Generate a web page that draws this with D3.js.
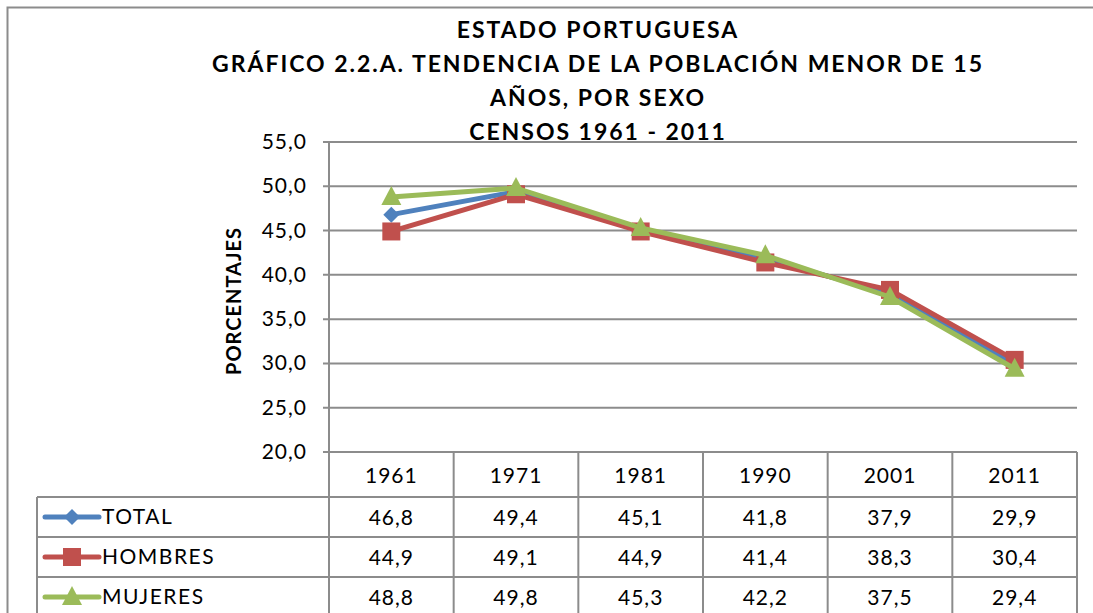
<!DOCTYPE html>
<html><head><meta charset="utf-8">
<script src="https://cdn.jsdelivr.net/npm/d3@7"></script>
<style>body{margin:0;background:#fff}svg{display:block}text{font-family:Lato,"Open Sans",sans-serif}</style>
</head><body>
<svg id="c" width="1093" height="613"></svg>
<script>
const titleLines = ["ESTADO PORTUGUESA","GRÁFICO 2.2.A. TENDENCIA DE LA POBLACIÓN MENOR DE 15","AÑOS, POR SEXO","CENSOS 1961  - 2011"];
const years = ["1961","1971","1981","1990","2001","2011"];
const total = [46.8,49.4,45.1,41.8,37.9,29.9];
const hombres = [44.9,49.1,44.9,41.4,38.3,30.4];
const mujeres = [48.8,49.8,45.3,42.2,37.5,29.4];
const yTicks = [20,25,30,35,40,45,50,55];
const seriesNames = ["TOTAL","HOMBRES","MUJERES"];
const seriesColors = ["#4F81BD","#C0504D","#9BBB59"];
const seriesShapes = ["diamond","square","triangle"];
const yTitle = "PORCENTAJES";

const series = seriesNames.map((n,i)=>({name:n,color:seriesColors[i],shape:seriesShapes[i],values:[total,hombres,mujeres][i]}));
const svg = d3.select("#c");
const L=329,R=1077,T=142,B=452;
const x = d3.scaleBand().domain(years).range([L,R]);
const y = d3.scaleLinear().domain([20,55]).range([B,T]);
const grid="#8c8c8c";
const fmt = v=>d3.format(".1f")(v).replace(".",",");
const FS=21, LS=1;

// outer border
svg.append("rect").attr("x",7.5).attr("y",7.5).attr("width",1200).attr("height",700).attr("fill","none").attr("stroke","#8c8c8c").attr("stroke-width",2);

// title
const tt = titleLines.map((t,i)=>svg.append("text").attr("x",598).attr("y",38+i*34).attr("text-anchor","middle")
   .attr("font-size",23).attr("font-weight","bold").attr("fill","#000").text(t));
const w2 = tt[1].node().getComputedTextLength();
const ls = (770 - w2) / (titleLines[1].length - 1);
tt.forEach(t=>t.attr("letter-spacing",ls));

// gridlines
svg.append("g").selectAll("line").data(yTicks).join("line")
  .attr("x1",L-6).attr("x2",R).attr("y1",d=>y(d)).attr("y2",d=>y(d))
  .attr("stroke",grid).attr("stroke-width",2);
svg.append("g").selectAll("text").data(yTicks).join("text")
  .attr("x",307).attr("y",d=>y(d)+7).attr("text-anchor","end").attr("font-size",FS).attr("letter-spacing",LS).attr("fill","#000").text(fmt);
// axis line
svg.append("line").attr("x1",L).attr("x2",L).attr("y1",T).attr("y2",613).attr("stroke",grid).attr("stroke-width",2);

// y title
svg.append("text").attr("transform",`translate(241,${(T+B)/2+4}) rotate(-90)`).attr("text-anchor","middle")
  .attr("font-size",20).attr("letter-spacing",1).attr("font-weight","bold").text(yTitle);

// table
const rowY=[497,537,577];
const tbl=svg.append("g").attr("stroke",grid).attr("stroke-width",2);
x.domain().forEach(d=>{ tbl.append("line").attr("x1",x(d)+x.bandwidth()).attr("x2",x(d)+x.bandwidth()).attr("y1",B).attr("y2",613); });
rowY.forEach(r=>tbl.append("line").attr("x1",37).attr("x2",R).attr("y1",r).attr("y2",r));
tbl.append("line").attr("x1",37).attr("x2",37).attr("y1",rowY[0]).attr("y2",613);
svg.append("g").selectAll("text").data(years).join("text")
  .attr("x",d=>x(d)+x.bandwidth()/2).attr("y",483).attr("text-anchor","middle").attr("font-size",FS).attr("letter-spacing",LS).text(d=>d);

function marker(g,shape,color,cx,cy){
  if(shape==="diamond") g.append("path").attr("d",`M${cx},${cy-8}L${cx+8},${cy}L${cx},${cy+8}L${cx-8},${cy}Z`).attr("fill",color);
  else if(shape==="square") g.append("rect").attr("x",cx-9).attr("y",cy-9).attr("width",18).attr("height",18).attr("fill",color);
  else g.append("path").attr("d",`M${cx},${cy-11}L${cx+10},${cy+8}L${cx-10},${cy+8}Z`).attr("fill",color);
}

series.forEach((s,i)=>{
  const cy=rowY[i]+20;
  svg.append("line").attr("x1",45).attr("x2",99).attr("y1",cy).attr("y2",cy).attr("stroke",s.color).attr("stroke-width",5).attr("stroke-linecap","round");
  marker(svg,s.shape,s.color,72,cy);
  svg.append("text").attr("x",102).attr("y",cy+7).attr("font-size",FS).attr("letter-spacing",1.5).text(s.name);
  svg.append("g").selectAll("text").data(s.values).join("text")
    .attr("x",(d,j)=>x(years[j])+x.bandwidth()/2).attr("y",cy+8).attr("text-anchor","middle").attr("font-size",FS).attr("letter-spacing",LS).text(fmt);
});

// lines
const line=d3.line().x((d,j)=>x(years[j])+x.bandwidth()/2).y(d=>y(d));
series.forEach(s=>{
  const g=svg.append("g");
  g.append("path").attr("d",line(s.values)).attr("fill","none").attr("stroke",s.color).attr("stroke-width",5).attr("stroke-linejoin","round");
  s.values.forEach((v,j)=>marker(g,s.shape,s.color,x(years[j])+x.bandwidth()/2,y(v)));
});
</script>
</body></html>
